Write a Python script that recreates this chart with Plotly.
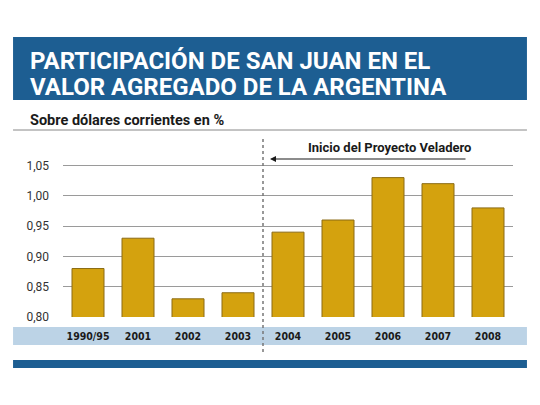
import plotly.graph_objects as go

# Chart data
categories = ['1990/95', '2001', '2002', '2003', '2004', '2005', '2006', '2007', '2008']
values = [0.88, 0.93, 0.83, 0.84, 0.94, 0.96, 1.03, 1.02, 0.98]
y_ticks = [0.80, 0.85, 0.90, 0.95, 1.00, 1.05]

title_lines = ['PARTICIPACIÓN DE SAN JUAN EN EL', 'VALOR AGREGADO DE LA ARGENTINA']
subtitle_text = 'Sobre dólares corrientes en %'
note_text = 'Inicio del Proyecto Veladero'

NARROW = 'DejaVu Sans Condensed, Roboto, sans-serif'
SANS = 'Roboto, sans-serif'
BLUE = '#1d5e92'
GOLD = '#d4a20e'

fig = go.Figure(go.Bar(
    x=categories,
    y=values,
    marker=dict(color=GOLD, line=dict(color='#8b6b14', width=1)),
    hoverinfo='x+y',
))

fig.update_layout(
    width=540, height=405,
    margin=dict(l=55, r=35, t=133, b=96),
    paper_bgcolor='white',
    plot_bgcolor='white',
    showlegend=False,
    bargap=0.36,
    separators=',.',
    xaxis=dict(
        type='category',
        showgrid=False, zeroline=False, showline=False,
        ticks='', ticklabelstandoff=11,
        tickfont=dict(family=NARROW, size=10.5, color='#1a1a1a', weight='bold'),
    ),
    yaxis=dict(
        range=[0.80, 1.0904],
        tickvals=y_ticks,
        tickformat='.2f',
        showgrid=True, gridcolor='#9a9a9a', gridwidth=1,
        zeroline=False, showline=False, ticks='',
        ticklabelstandoff=13,
        tickfont=dict(family=SANS, size=12, color='#333333'),
    ),
)

# Title banner, subtitle rule, x-axis band and footer stripe
fig.add_shape(type='rect', xref='paper', yref='paper',
              x0=-0.111, x1=1.031, y0=1.233, y1=1.591,
              fillcolor=BLUE, line_width=0, layer='below')
fig.add_shape(type='line', xref='paper', yref='paper',
              x0=-0.111, x1=1.031, y0=1.0625, y1=1.0625,
              line=dict(color='#888888', width=1))
fig.add_shape(type='rect', xref='paper', yref='paper',
              x0=-0.111, x1=1.031, y0=-0.159, y1=-0.0568,
              fillcolor='#bcd3e6', line_width=0, layer='below')
fig.add_shape(type='rect', xref='paper', yref='paper',
              x0=-0.111, x1=1.031, y0=-0.290, y1=-0.244,
              fillcolor=BLUE, line_width=0, layer='below')

# Dotted divider between 2003 and 2004
fig.add_shape(type='line', xref='x', yref='paper',
              x0=3.5, x1=3.5, y0=-0.199, y1=1.023,
              line=dict(color='#777777', width=1.5, dash='dot'))

# Two title lines placed separately for tighter leading
for line, ypos in zip(title_lines, [1.455, 1.307]):
    fig.add_annotation(text='<b>' + line + '</b>', xref='paper', yref='paper',
                       x=-0.078, y=ypos, xanchor='left', yanchor='middle',
                       showarrow=False,
                       font=dict(family=SANS, size=24, color='white'))
fig.add_annotation(text='<b>' + subtitle_text + '</b>', xref='paper', yref='paper',
                   x=-0.078, y=1.114, xanchor='left', yanchor='middle',
                   showarrow=False,
                   font=dict(family=SANS, size=14.5, color='#1a1a1a'))

# Arrow and label for the project start
fig.add_annotation(x=3.64, y=1.0607, ax=7.58, ay=1.0607,
                   xref='x', yref='y', axref='x', ayref='y',
                   text='', showarrow=True, arrowhead=2, arrowsize=1,
                   arrowwidth=1.2, arrowcolor='#1a1a1a')
fig.add_annotation(text='<b>' + note_text + '</b>', x=6.03, y=1.0805,
                   xref='x', yref='y', showarrow=False,
                   font=dict(family=SANS, size=13, color='#1a1a1a'))

fig.write_html('out.html')
